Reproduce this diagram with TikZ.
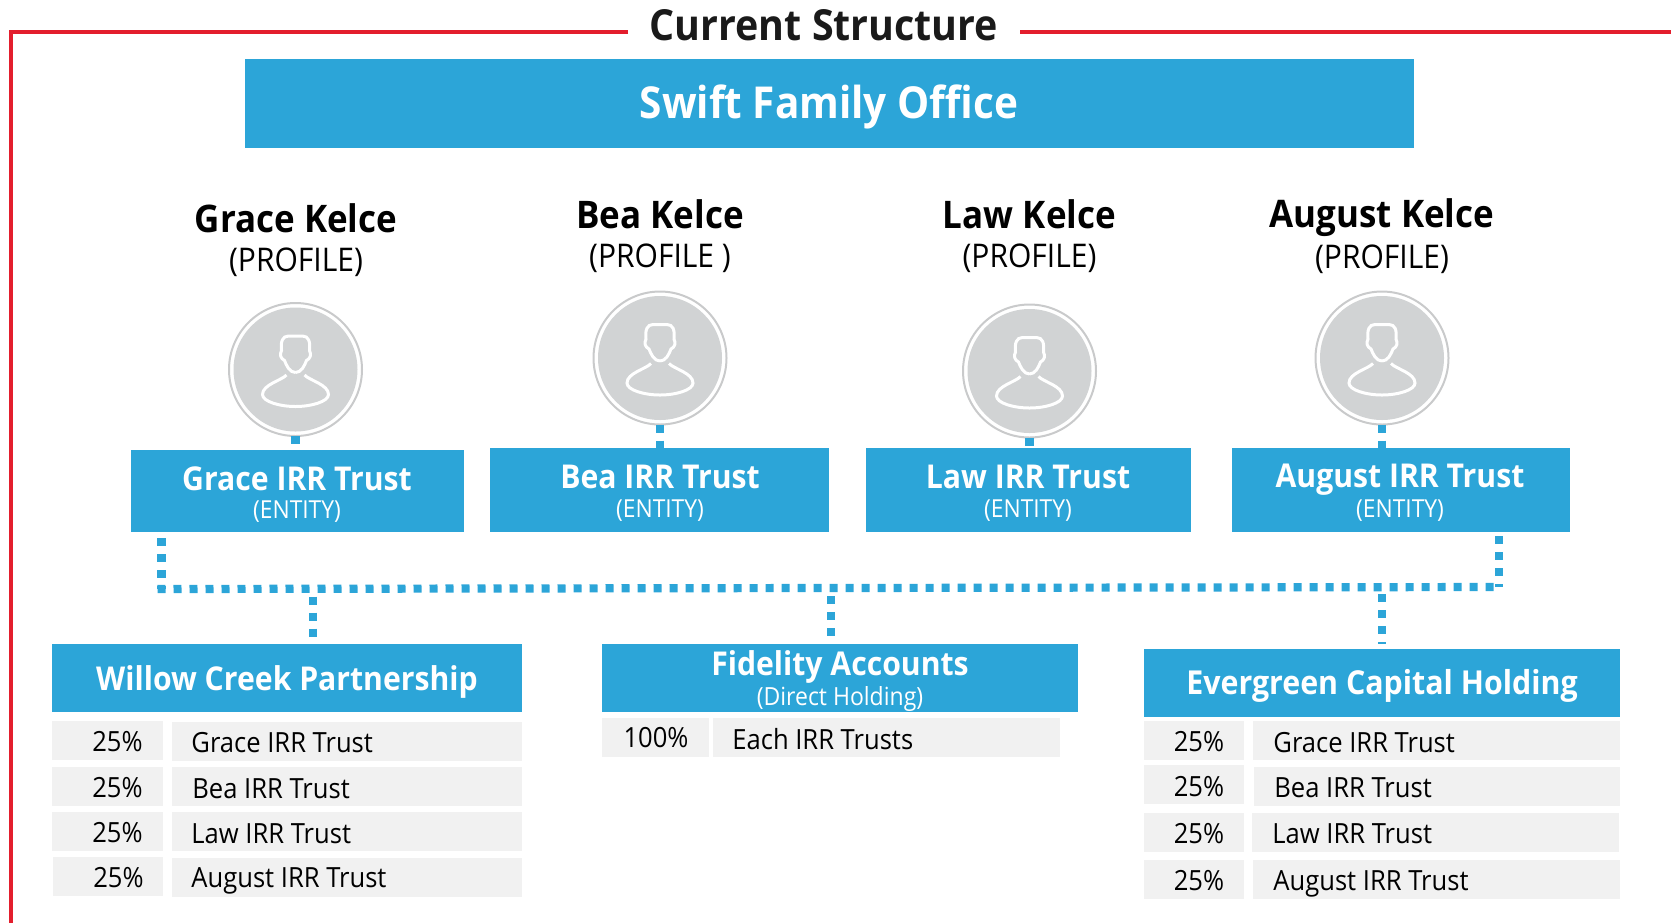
\documentclass[tikz,border=0pt]{standalone}
\usepackage{fontspec}
\setmainfont[FakeStretch=0.92]{Open Sans}
\definecolor{framered}{HTML}{E31E2D}
\definecolor{boxblue}{HTML}{2CA5D8}
\definecolor{rowgray}{HTML}{F1F1F1}
\definecolor{iconfill}{HTML}{D1D3D4}
\definecolor{ringgray}{HTML}{C9CACB}
\definecolor{titleblack}{HTML}{1A1A1A}
\tikzset{
    bluebox/.style 2 args={fill=boxblue, inner sep=0pt, outer sep=0pt, minimum width=#1*0.5pt, minimum height=#2*0.5pt},
    rowbox/.style 2 args={fill=rowgray, inner sep=0pt, outer sep=0pt, minimum width=#1*0.5pt, minimum height=#2*0.5pt},
    headtext/.style={text=white, font=\bfseries\fontsize{#1}{#1}\selectfont, inner sep=0pt},
    subtext/.style={text=white, font=\fontsize{12.4}{13}\selectfont, inner sep=0pt},
    nametext/.style={text=black, font=\bfseries\fontsize{19}{20}\selectfont, inner sep=0pt},
    roletext/.style={text=black, font=\fontsize{16.3}{17}\selectfont, inner sep=0pt},
    rowtext/.style={text=black, font=\fontsize{13.9}{14}\selectfont, inner sep=0pt},
    personring/.style={circle, draw=ringgray, line width=1pt, fill=white, minimum size=66.5pt, inner sep=0pt, outer sep=0pt},
    dotline/.style={draw=boxblue, line width=4.1pt, dash pattern=on 4pt off 4pt},
    personicon/.pic={
        \fill[iconfill] (0,0) circle (62*0.5pt);
        \draw[white, line width=1.5pt] (0,3) .. controls (-6,3) and (-9,-4) .. (-11,-9)
            .. controls (-15,-11) and (-16,-15) .. (-14,-19)
            .. controls (-15,-28) and (-13,-33.5) .. (-7,-33.5) -- (7,-33.5)
            .. controls (13,-33.5) and (15,-28) .. (14,-19)
            .. controls (16,-15) and (15,-11) .. (11,-9)
            .. controls (9,-4) and (6,3) .. (0,3);
        \draw[white, line width=1.5pt] (-9,5.5) .. controls (-14,11) and (-33,15) .. (-33,25)
            .. controls (-33,32) and (-16,37) .. (0,37)
            .. controls (16,37) and (33,32) .. (33,25)
            .. controls (33,15) and (14,11) .. (9,5.5);
    }
}
\begin{document}
\begin{tikzpicture}[x=0.5pt, y=-0.5pt]
    \useasboundingbox (0,0) rectangle (1671,923);
    \coordinate (frametop) at (628,32);
    \coordinate (framecorner) at (11,32);
    \coordinate (framebottom) at (11,923);
    \coordinate (frameright) at (1671,32);
    \coordinate (frameresume) at (1020,32);
    \draw[framered, line width=2pt] (frametop) -- (framecorner) -- (framebottom);
    \draw[framered, line width=2pt] (frameresume) -- (frameright);
    \node[text=titleblack, font=\bfseries\fontsize{21.4}{22}\selectfont, inner sep=0pt] (maintitle) at (824,25) {Current Structure};

    \node[bluebox={1169}{89}] (office) at (829.5,103.5) {};
    \node[headtext=22] (officetitle) at (829,107) {Swift Family Office};

    \node[nametext] (gracename) at (296,218) {Grace Kelce};
    \node[roletext] (graceprofile) at (296,262) {(PROFILE)};
    \node[nametext] (beaname) at (660,214) {Bea Kelce};
    \node[roletext] (beaprofile) at (660,258) {(PROFILE )};
    \node[nametext] (lawname) at (1029.5,214) {Law Kelce};
    \node[roletext] (lawprofile) at (1029.5,258) {(PROFILE)};
    \node[nametext] (augustname) at (1382,218) {August Kelce};
    \node[roletext] (augustprofile) at (1382,259) {(PROFILE)};

    \node[personring] (gracering) at (295.5,369.5) {};
    \node[personring] (bearing) at (660,358) {};
    \node[personring] (lawring) at (1029.5,371) {};
    \node[personring] (augustring) at (1382,358) {};
    \pic at (gracering) {personicon};
    \pic at (bearing) {personicon};
    \pic at (lawring) {personicon};
    \pic at (augustring) {personicon};

    \node[bluebox={333}{82}] (gracetrust) at (297.5,491) {};
    \node[bluebox={339}{84}] (beatrust) at (659.5,490) {};
    \node[bluebox={325}{84}] (lawtrust) at (1028.5,490) {};
    \node[bluebox={338}{84}] (augusttrust) at (1401,490) {};
    \node[headtext=16.4] (gracetrustname) at (297,479) {Grace IRR Trust};
    \node[subtext] (gracetrustrole) at (297,512) {(ENTITY)};
    \node[headtext=16.4] (beatrustname) at (660,477) {Bea IRR Trust};
    \node[subtext] (beatrustrole) at (660,511) {(ENTITY)};
    \node[headtext=16.4] (lawtrustname) at (1028,477) {Law IRR Trust};
    \node[subtext] (lawtrustrole) at (1028,511) {(ENTITY)};
    \node[headtext=16.4] (augusttrustname) at (1400,480) {August IRR Trust};
    \node[subtext] (augusttrustrole) at (1400,511) {(ENTITY)};

    \draw[dotline] (gracering.south) -- (gracetrust.north -| gracering.south);
    \draw[dotline] (bearing.south) -- (beatrust.north -| bearing.south);
    \draw[dotline] (lawring.south) -- (lawtrust.north -| lawring.south);
    \draw[dotline] (augustring.south) -- (augusttrust.north -| augustring.south);

    \node[bluebox={470}{68}] (willow) at (287,678) {};
    \node[bluebox={476}{68}] (fidelity) at (840,678) {};
    \node[bluebox={476}{68}] (evergreen) at (1382,683) {};
    \node[headtext=16.4] (willowtitle) at (287,682) {Willow Creek Partnership};
    \node[headtext=16.4] (fidelitytitle) at (840,667) {Fidelity Accounts};
    \node[subtext, font=\fontsize{12.5}{13}\selectfont] (fidelitysub) at (840,699) {(Direct Holding)};
    \node[headtext=16.5] (evergreentitle) at (1382,686) {Evergreen Capital Holding};

    \coordinate (busleft) at (161.5,589);
    \coordinate (busright) at (1499,587);
    \coordinate (willowdrop) at (313,588.7);
    \coordinate (fidelitydrop) at (831,588);
    \coordinate (evergreendrop) at (1382,587.3);
    \draw[dotline, shorten <=3pt] (gracetrust.south -| busleft) -- (busleft);
    \draw[dotline, shorten <=2pt] (augusttrust.south -| busright) -- (busright);
    \draw[dotline] ([xshift=-2pt]busleft) -- (busright);
    \draw[dotline, shorten <=4pt] (willowdrop) -- (willow.north -| willowdrop);
    \draw[dotline, shorten <=4pt] (fidelitydrop) -- (fidelity.north -| fidelitydrop);
    \draw[dotline, shorten <=3.5pt, shorten >=2.5pt] (evergreendrop) -- (evergreen.north -| evergreendrop);

    \node[rowbox={111}{39}] (willowpcta) at (107.5,740.5) {};
    \node[rowbox={111}{39}] (willowpctb) at (107.5,786.5) {};
    \node[rowbox={111}{39}] (willowpctc) at (107.5,831.5) {};
    \node[rowbox={110}{39}] (willowpctd) at (108,876.5) {};
    \node[rowbox={350}{39}] (willowrowa) at (347,741.5) {};
    \node[rowbox={350}{39}] (willowrowb) at (347,786.5) {};
    \node[rowbox={350}{39}] (willowrowc) at (347,831.5) {};
    \node[rowbox={350}{39}] (willowrowd) at (347,877.5) {};
    \node[rowtext] at (117.5,742) {25\%};
    \node[rowtext] at (117.5,788) {25\%};
    \node[rowtext] at (117.5,833) {25\%};
    \node[rowtext] at (118.5,878) {25\%};
    \node[rowtext, anchor=west] at (191,743) {Grace IRR Trust};
    \node[rowtext, anchor=west] at (192,789) {Bea IRR Trust};
    \node[rowtext, anchor=west] at (191,834) {Law IRR Trust};
    \node[rowtext, anchor=west] at (191,881) {August IRR Trust};

    \node[rowbox={107}{39}] (fidelitypct) at (655.5,737.5) {};
    \node[rowbox={347}{39}] (fidelityrow) at (886.5,737.5) {};
    \node[rowtext] at (656,738) {100\%};
    \node[rowtext, anchor=west] at (732,739) {Each IRR Trusts};

    \node[rowbox={100}{39}] (evergreenpcta) at (1194,740.5) {};
    \node[rowbox={100}{39}] (evergreenpctb) at (1194,784.5) {};
    \node[rowbox={100}{39}] (evergreenpctc) at (1194,832.5) {};
    \node[rowbox={100}{39}] (evergreenpctd) at (1194,879.5) {};
    \node[rowbox={367}{39}] (evergreenrowa) at (1436.5,740.5) {};
    \node[rowbox={366}{39}] (evergreenrowb) at (1437,786.5) {};
    \node[rowbox={367}{39}] (evergreenrowc) at (1435.5,832.5) {};
    \node[rowbox={367}{39}] (evergreenrowd) at (1436.5,879.5) {};
    \node[rowtext] at (1199,742) {25\%};
    \node[rowtext] at (1199,787) {25\%};
    \node[rowtext] at (1199,834) {25\%};
    \node[rowtext] at (1199,881) {25\%};
    \node[rowtext, anchor=west] at (1273,743) {Grace IRR Trust};
    \node[rowtext, anchor=west] at (1274,788) {Bea IRR Trust};
    \node[rowtext, anchor=west] at (1272,834) {Law IRR Trust};
    \node[rowtext, anchor=west] at (1273,884) {August IRR Trust};
\end{tikzpicture}
\end{document}
